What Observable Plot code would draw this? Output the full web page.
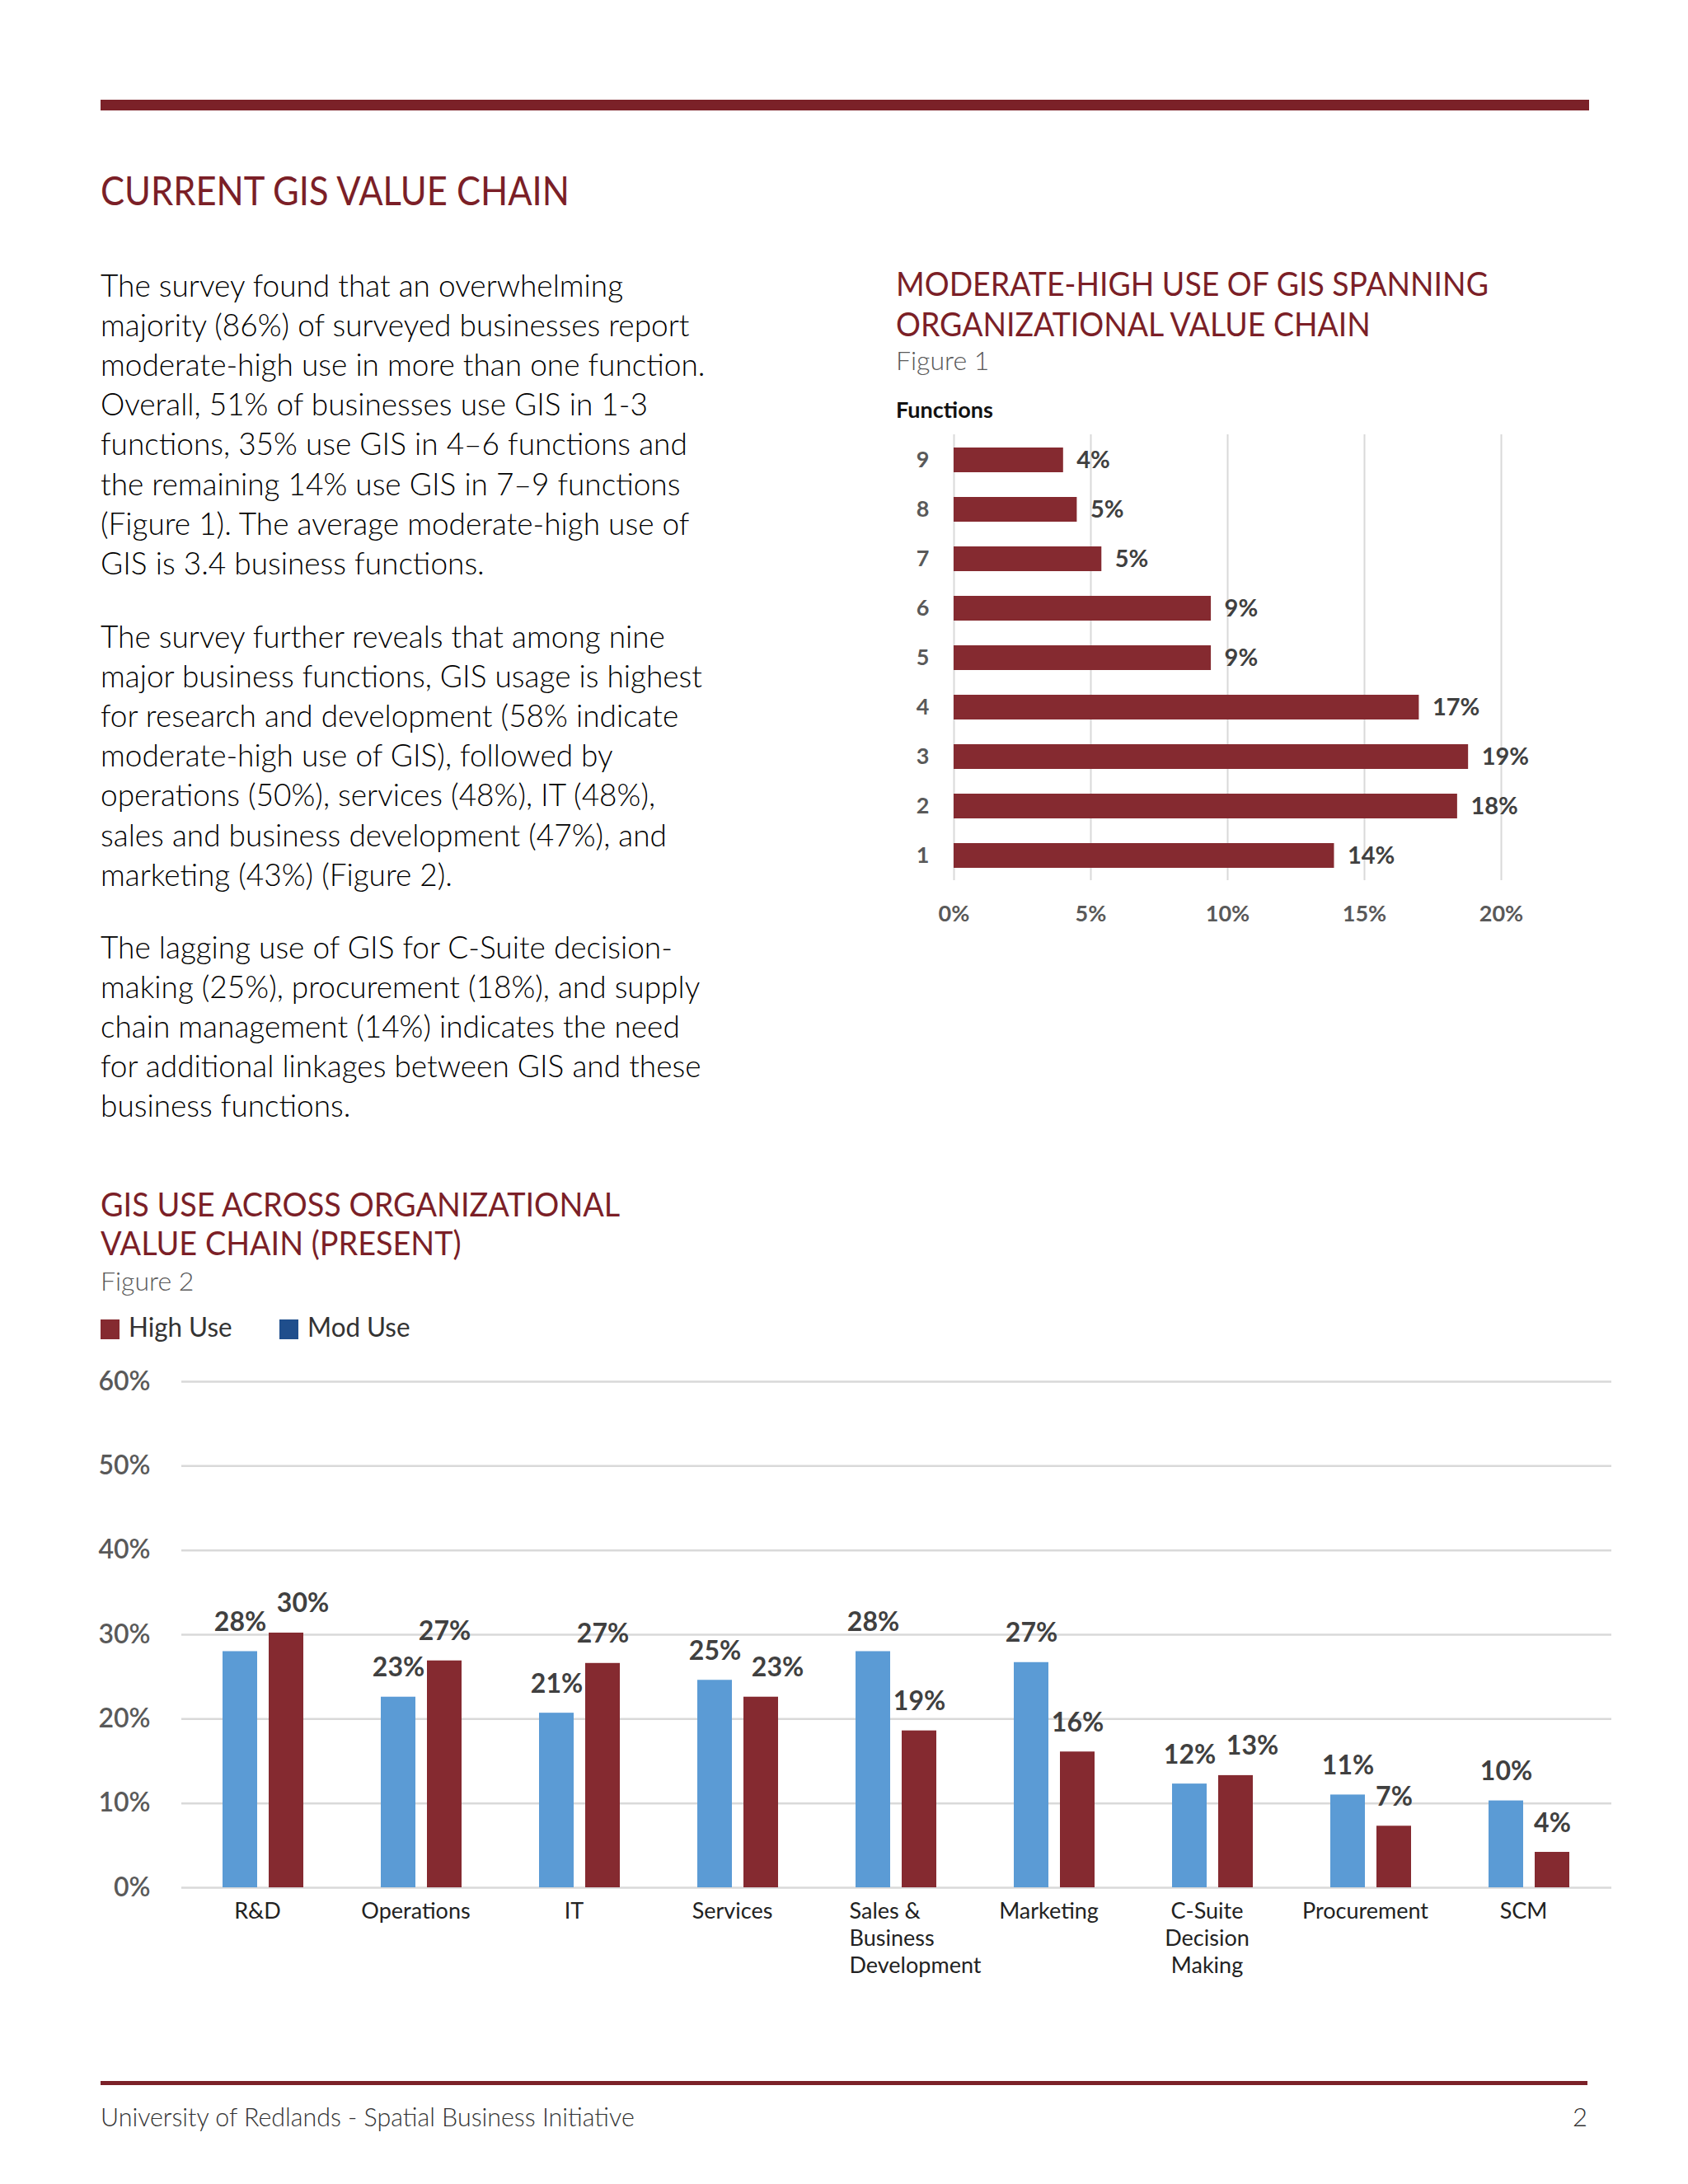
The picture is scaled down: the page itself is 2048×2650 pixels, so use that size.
<!DOCTYPE html>
<html><head><meta charset="utf-8">
<script src="https://cdn.jsdelivr.net/npm/d3@7"></script>
<script src="https://cdn.jsdelivr.net/npm/@observablehq/plot@0.6"></script>
<style>
html,body{margin:0;padding:0;background:#fff;}
#page{position:relative;width:2048px;height:2650px;overflow:hidden;font-family:Lato,"Noto Sans",sans-serif;background:#fff;}
.abs{position:absolute;white-space:pre;}
.rule{position:absolute;background:#7b2128;}
svg{overflow:visible;}
</style></head><body><div id="page"></div>
<script>
// ---------- data ----------
const functionLevels = ["9","8","7","6","5","4","3","2","1"];
const functionShares = [4.0, 4.5, 5.4, 9.4, 9.4, 17.0, 18.8, 18.4, 13.9];
const functionTicks = [0, 5, 10, 15, 20];

const valueChainCategories = ["R&D","Operations","IT","Services","Sales &\nBusiness\nDevelopment","Marketing","C-Suite\nDecision\nMaking","Procurement","SCM"];
const modUseShares  = [28.0, 22.6, 20.7, 24.6, 28.0, 26.7, 12.3, 11.0, 10.3];
const highUseShares = [30.2, 26.9, 26.6, 22.6, 18.6, 16.1, 13.3, 7.3, 4.2];
const valueChainTicks = [0, 10, 20, 30, 40, 50, 60];
const legendLabels = ["High Use", "Mod Use"];

const pageTitle = "CURRENT GIS VALUE CHAIN";
const paragraphs = [
"The survey found that an overwhelming\nmajority (86%) of surveyed businesses report\nmoderate-high use in more than one function.\nOverall, 51% of businesses use GIS in 1-3\nfunctions, 35% use GIS in 4–6 functions and\nthe remaining 14% use GIS in 7–9 functions\n(Figure 1). The average moderate-high use of\nGIS is 3.4 business functions.",
"The survey further reveals that among nine\nmajor business functions, GIS usage is highest\nfor research and development (58% indicate\nmoderate-high use of GIS), followed by\noperations (50%), services (48%), IT (48%),\nsales and business development (47%), and\nmarketing (43%) (Figure 2).",
"The lagging use of GIS for C-Suite decision-\nmaking (25%), procurement (18%), and supply\nchain management (14%) indicates the need\nfor additional linkages between GIS and these\nbusiness functions."
];
const fig1Title = "MODERATE-HIGH USE OF GIS SPANNING\nORGANIZATIONAL VALUE CHAIN";
const fig2Title = "GIS USE ACROSS ORGANIZATIONAL\nVALUE CHAIN (PRESENT)";
const footerText = "University of Redlands - Spatial Business Initiative";
const pageNumber = "2";

// ---------- colours ----------
const RED = "#7b1f27", BAR_RED = "#852a30", BAR_BLUE = "#5b9bd5", LEG_BLUE = "#1f4e8c";

const page = document.getElementById("page");
function txt(content, o) {
  const d = document.createElement("div");
  d.className = "abs";
  const fs = o.size, L = o.lh || fs;
  d.style.fontSize = fs + "px";
  d.style.lineHeight = L + "px";
  d.style.fontWeight = o.weight || 400;
  d.style.color = o.color || "#222";
  if (o.ls != null) d.style.letterSpacing = o.ls + "px";
  d.style.top = (o.baseline - ((L - 1.2 * fs) / 2 + 0.987 * fs)) + "px";
  if (o.right != null) { d.style.right = (2048 - o.right) + "px"; d.style.textAlign = "right"; d.style.transformOrigin = "right top"; }
  else { d.style.left = o.x + "px"; d.style.transformOrigin = "left top"; }
  if (o.sx) d.style.transform = `scaleX(${o.sx})`;
  d.textContent = content;
  page.appendChild(d);
  return d;
}
function rule(x, y, w, h) {
  const d = document.createElement("div");
  d.className = "rule";
  Object.assign(d.style, {left: x + "px", top: y + "px", width: w + "px", height: h + "px"});
  page.appendChild(d);
}
function place(el, left, top) {
  el.style.position = "absolute"; el.style.left = left + "px"; el.style.top = top + "px";
  page.appendChild(el);
}

// ---------- page chrome ----------
rule(122, 121, 1806, 13);
txt(pageTitle, {x: 122, baseline: 250, size: 48, color: RED, sx: 0.905});
const paraBaselines = [360, 786, 1163];
paragraphs.forEach((p, i) => txt(p, {x: 122, baseline: paraBaselines[i], size: 37, lh: 48.2, weight: 300, color: "#000", sx: 1.0}));

txt(fig1Title, {x: 1087, baseline: 360, size: 40, lh: 48.5, color: RED, sx: 0.935});
txt("Figure 1", {x: 1087, baseline: 449, size: 32, weight: 300, color: "#595959"});
txt("Functions", {x: 1087, baseline: 507, size: 27, weight: 700, color: "#111"});

txt(fig2Title, {x: 122, baseline: 1477, size: 40, lh: 47, color: RED, sx: 0.945});
txt("Figure 2", {x: 122, baseline: 1566, size: 32, weight: 300, color: "#595959"});

// legend
const legendColors = [BAR_RED, LEG_BLUE];
const legendX = [122, 339];
legendLabels.forEach((lab, i) => {
  const sq = document.createElement("div");
  Object.assign(sq.style, {position: "absolute", left: legendX[i] + "px", top: "1601px", width: "23px", height: "24px", background: legendColors[i]});
  page.appendChild(sq);
  txt(lab, {x: legendX[i] + 34, baseline: 1622, size: 32, color: "#333", sx: 0.98});
});

rule(122, 2525, 1804, 5);
txt(footerText, {x: 122, baseline: 2580, size: 31, weight: 300, color: "#333", sx: 0.98});
txt(pageNumber, {right: 1926, baseline: 2580, size: 31, weight: 300, color: "#333"});

// ---------- Figure 1 ----------
const fnData = functionLevels.map((f, i) => ({f, v: functionShares[i]}));
const fig1 = Plot.plot({
  width: 880, height: 10 + 541 + 70,
  marginLeft: 116, marginRight: 100, marginTop: 10, marginBottom: 70,
  style: {fontFamily: "Lato, sans-serif", background: "transparent", overflow: "visible"},
  x: {domain: [0, 20]},
  y: {domain: functionLevels, paddingInner: 0.5, paddingOuter: 0.25},
  marks: [
    Plot.ruleX(functionTicks, {stroke: "#d9d9d9", strokeWidth: 2}),
    Plot.barX(fnData, {x: "v", y: "f", fill: BAR_RED}),
    Plot.text(fnData, {x: "v", y: "f", text: d => Math.round(d.v) + "%", textAnchor: "start", dx: 16, fontSize: 29, fontWeight: 700, fill: "#404040"}),
    Plot.axisX({ticks: functionTicks, tickFormat: d => d + "%", tickSize: 0, tickPadding: 30, fontSize: 27, fontWeight: 700, fill: "#595959", label: null}),
    Plot.axisY({tickSize: 0, tickPadding: 30, fontSize: 27, fontWeight: 700, fill: "#595959", label: null})
  ]
});
place(fig1, 1040.7, 516.7);

// ---------- Figure 2 ----------
const vcData = valueChainCategories.map((c, i) => ({c, mod: modUseShares[i], high: highUseShares[i]}));
// labels of a pair whose tops are close are pushed apart so they do not collide
const close = d => Math.abs(d.mod - d.high) < 2.5;
const salesCat = valueChainCategories[4];
const labelStyle = {lineAnchor: "bottom", dy: -25, fontSize: 32, fontWeight: 700, fill: "#404040"};
const fig2 = Plot.plot({
  width: 2015, height: 23 + 614 + 140,
  marginLeft: 220, marginRight: 60, marginTop: 23, marginBottom: 140,
  style: {fontFamily: "Lato, sans-serif", background: "transparent", overflow: "visible"},
  x: {domain: valueChainCategories, padding: 0},
  y: {domain: [0, 60]},
  marks: [
    Plot.ruleY(valueChainTicks, {stroke: "#d9d9d9", strokeWidth: 2.5}),
    Plot.barY(vcData, {x: "c", y: "mod", fill: BAR_BLUE, insetLeft: 46, insetRight: 104}),
    Plot.barY(vcData, {x: "c", y: "high", fill: BAR_RED, insetLeft: 102, insetRight: 48}),
    Plot.text(vcData, {x: "c", y: "mod", text: d => Math.round(d.mod) + "%", dx: -29, ...labelStyle}),
    Plot.text(vcData, {filter: d => !close(d), x: "c", y: "high", text: d => Math.round(d.high) + "%", dx: 27, ...labelStyle}),
    Plot.text(vcData, {filter: close, x: "c", y: "high", text: d => Math.round(d.high) + "%", dx: 47, ...labelStyle}),
    Plot.axisY({ticks: valueChainTicks, tickFormat: d => d + "%", tickSize: 0, tickPadding: 38, fontSize: 32, fontWeight: 600, fill: "#595959", label: null}),
    Plot.axisX({ticks: valueChainCategories.filter(c => c !== salesCat), tickSize: 0, tickPadding: 14, fontSize: 27, lineHeight: 1.22, fill: "#222", dx: -8, label: null}),
    Plot.axisX({ticks: [salesCat], tickSize: 0, tickPadding: 14, fontSize: 27, lineHeight: 1.22, fill: "#222", textAnchor: "start", dx: -58, label: null})
  ]
});
place(fig2, 0, 1653);
</script>
</body></html>
